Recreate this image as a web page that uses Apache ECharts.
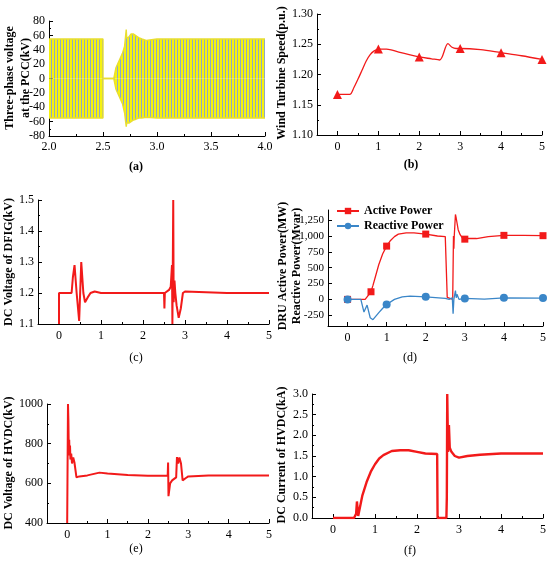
<!DOCTYPE html>
<html>
	<head>
		<meta charset="UTF-8">
		<title>Simulation results</title>
		<script src="https://cdn.jsdelivr.net/npm/echarts@6/dist/echarts.min.js"></script>
		<style>
			html, body { margin: 0; padding: 0; background: #fff; }
		</style>
	</head>
	<body>
		<div id="main" style="width: 550px;height:561px;"></div>
		<script type="text/javascript">

		// (a) envelope of the three-phase voltage at the PCC (kV)
		var aTime  = [2.0, 2.5, 2.5, 2.6, 2.62, 2.65, 2.68, 2.7, 2.715, 2.72, 2.74, 2.76, 2.78, 2.8, 2.83, 2.86, 2.9, 3.0, 4.0];
		var aUpper = [55, 55, 0, 0, 15, 25, 35, 45, 68, 56, 58, 62, 62, 60, 57, 55, 53, 55, 55];
		var aLower = [-55, -55, 0, 0, -15, -25, -35, -48, -67, -62, -62, -60, -58, -57, -55, -55, -54, -55, -55];

		// (b) wind turbine speed (p.u.)
		var bTime  = [0, 0.3, 0.4, 0.5, 0.6, 0.7, 0.8, 0.9, 1.0, 1.2, 1.5, 2.0, 2.3, 2.5, 2.7, 2.8, 2.9, 3.0, 3.5, 4.0, 4.5, 5.0];
		var bSpeed = [1.167, 1.167, 1.178, 1.192, 1.207, 1.222, 1.233, 1.239, 1.242, 1.242, 1.237, 1.229, 1.226, 1.224, 1.251, 1.245, 1.243, 1.243, 1.241, 1.236, 1.231, 1.225];
		var bMarks = [0, 1, 2, 3, 4, 5];

		// (c) DC voltage of DFIG (kV)
		var cTime = [0, 0, 0.3, 0.33, 0.37, 0.42, 0.48, 0.53, 0.58, 0.62, 0.68, 0.75, 0.85, 1.0, 1.5, 2.0, 2.5, 2.51, 2.52, 2.55, 2.62, 2.66, 2.69, 2.7, 2.72, 2.73, 2.75, 2.77, 2.8, 2.85, 2.9, 2.95, 3.0, 4.0, 5.0];
		var cVolt = [1.1, 1.2, 1.2, 1.25, 1.29, 1.2, 1.11, 1.30, 1.2, 1.17, 1.185, 1.2, 1.205, 1.2, 1.2, 1.2, 1.2, 1.15, 1.2, 1.2, 1.21, 1.22, 1.29, 1.1, 1.5, 1.17, 1.24, 1.2, 1.16, 1.12, 1.15, 1.2, 1.205, 1.2, 1.2];

		// (d) DRU active / reactive power
		var dActTime = [0, 0.35, 0.45, 0.5, 0.55, 0.6, 0.65, 0.7, 0.8, 0.9, 1.0, 1.1, 1.2, 1.3, 1.5, 1.7, 2.0, 2.3, 2.5, 2.53, 2.55, 2.6, 2.69, 2.71, 2.72, 2.73, 2.76, 2.78, 2.83, 2.88, 2.95, 3.0, 3.3, 3.6, 4.0, 4.5, 5.0];
		var dActive  = [0, 0, 0, 10, 80, 120, 220, 330, 550, 720, 840, 930, 990, 1030, 1050, 1050, 1030, 1000, 990, 980, 30, 0, 0, 1000, 800, 1000, 1340, 1280, 1100, 1020, 960, 950, 960, 990, 1010, 1010, 1005];
		var dActMarks = [0, 0.6, 1, 2, 3, 4, 5];
		var dReaTime = [0, 0.34, 0.42, 0.45, 0.5, 0.58, 0.65, 0.7, 0.8, 0.9, 1.0, 1.2, 1.4, 1.6, 2.0, 2.5, 2.6, 2.65, 2.68, 2.7, 2.72, 2.76, 2.78, 2.8, 2.85, 3.0, 3.5, 4.0, 5.0];
		var dReactive = [0, 0, -200, -170, -90, -290, -320, -300, -210, -140, -80, 0, 40, 52, 40, 15, 0, -25, 25, -225, 0, 140, 25, 80, 0, 15, 5, 25, 20];
		var dReaMarks = [0, 1, 2, 3, 4, 5];

		// (e) DC voltage of HVDC (kV)
		var eTime = [0, 0.02, 0.03, 0.04, 0.05, 0.06, 0.07, 0.08, 0.1, 0.12, 0.15, 0.18, 0.2, 0.21, 0.23, 0.3, 0.5, 0.8, 1.0, 1.5, 2.0, 2.49, 2.5, 2.51, 2.55, 2.6, 2.7, 2.72, 2.75, 2.78, 2.82, 2.86, 2.9, 2.95, 3.0, 3.5, 5.0];
		var eVolt = [400, 1000, 920, 760, 820, 740, 790, 720, 750, 700, 730, 705, 715, 700, 630, 635, 640, 654, 650, 642, 638, 638, 705, 535, 600, 615, 630, 732, 700, 730, 700, 615, 615, 628, 635, 640, 640];

		// (f) DC current of HVDC (kA)
		var fTime = [0, 0.5, 0.55, 0.57, 0.6, 0.62, 0.7, 0.8, 0.9, 1.0, 1.1, 1.2, 1.4, 1.6, 1.8, 2.0, 2.2, 2.48, 2.49, 2.7, 2.71, 2.72, 2.74, 2.76, 2.78, 2.82, 2.9, 3.0, 3.2, 3.5, 4.0, 4.5, 5.0];
		var fCurr = [0, 0, 0.1, 0.4, 0.05, 0.15, 0.55, 0.87, 1.12, 1.3, 1.44, 1.52, 1.62, 1.64, 1.64, 1.6, 1.56, 1.55, 0, 0, 0.5, 3.0, 1.6, 2.25, 1.7, 1.6, 1.5, 1.46, 1.5, 1.53, 1.56, 1.56, 1.56];

		var intTicks = [0, 1, 2, 3, 4, 5];
		var halfTicks = [0.5, 1.5, 2.5, 3.5, 4.5];
		var dTicks = [-250, 0, 250, 500, 750, 1000, 1250];

		var RED = '#f21a1a';
		var BLUE = '#3a86c8';
		var SERIF = '"Liberation Serif", "Times New Roman", serif';

		function pairs(xs, ys) {
			var out = [];
			for (var i = 0; i < xs.length; i++) out.push([xs[i], ys[i]]);
			return out;
		}
		// line data where only the listed x positions carry a marker
		function marked(xs, ys, marks) {
			var out = [];
			var used = {};
			for (var i = 0; i < xs.length; i++) {
				var m = marks.indexOf(xs[i]) >= 0 && !used[xs[i]];
				if (m) used[xs[i]] = true;
				out.push(m ? { value: [xs[i], ys[i]] } : { value: [xs[i], ys[i]], symbol: 'none' });
			}
			return out;
		}

		var labelStyle = { fontFamily: SERIF, fontSize: 12, color: '#000' };
		var lineBlack = { show: true, onZero: false, lineStyle: { color: '#000', width: 1 } };

		var grids = [
			{ left: 49, top: 21, width: 216, height: 115 },
			{ left: 317, top: 14, width: 225, height: 121 },
			{ left: 38, top: 200, width: 231, height: 124 },
			{ left: 328, top: 210, width: 215, height: 116 },
			{ left: 47, top: 404, width: 222, height: 119 },
			{ left: 312, top: 394, width: 231, height: 124 }
		];

		var xAxes = [];
		var mainX = [];
		// (a)
		xAxes.push({
			gridIndex: 0, type: 'value', min: 2, max: 4, interval: 0.5, position: 'bottom',
			axisLine: lineBlack, splitLine: { show: false },
			axisTick: { inside: true, length: 4, lineStyle: { color: '#000' } },
			minorTick: { show: true, splitNumber: 2, length: 2, lineStyle: { color: '#000' } },
			axisLabel: Object.assign({ margin: 5, formatter: function (v) { return v.toFixed(1); } }, labelStyle)
		});
		mainX.push(0);
		// (b)-(f): labels at integers, short ticks at halves
		for (var g = 1; g < 6; g++) {
			mainX.push(xAxes.length);
			xAxes.push({
				gridIndex: g, type: 'value', min: -0.5, max: 5, position: 'bottom',
				axisLine: lineBlack, splitLine: { show: false },
				axisTick: { inside: true, length: 4, customValues: intTicks, lineStyle: { color: '#000' } },
				axisLabel: Object.assign({ margin: 6, customValues: intTicks }, labelStyle)
			});
			xAxes.push({
				gridIndex: g, type: 'value', min: -0.5, max: 5, position: 'bottom',
				axisLine: { show: false, onZero: false }, splitLine: { show: false },
				axisTick: { inside: true, length: 2, customValues: halfTicks, lineStyle: { color: '#000' } },
				axisLabel: { show: false }
			});
		}

		function yAx(g, min, max, interval, digits, extra) {
			var ax = {
				gridIndex: g, type: 'value', min: min, max: max, interval: interval,
				axisLine: lineBlack, splitLine: { show: false },
				axisTick: { inside: true, length: 4, lineStyle: { color: '#000' } },
				minorTick: { show: true, splitNumber: 2, length: 2, lineStyle: { color: '#000' } },
				axisLabel: Object.assign({ margin: 4, formatter: function (v) { return v.toFixed(digits); } }, labelStyle)
			};
			return Object.assign(ax, extra || {});
		}

		var yAxes = [
			yAx(0, -80, 80, 20, 0),
			yAx(1, 1.10, 1.30, 0.05, 2),
			yAx(2, 1.1, 1.5, 0.1, 1),
			{
				gridIndex: 3, type: 'value', min: -420, max: 1410,
				axisLine: lineBlack, splitLine: { show: false },
				axisTick: { inside: true, length: 4, customValues: dTicks, lineStyle: { color: '#000' } },
				axisLabel: Object.assign({ margin: 4, customValues: dTicks }, labelStyle, { fontSize: 11 })
			},
			yAx(4, 400, 1000, 200, 0),
			yAx(5, 0, 3, 0.5, 1)
		];

		// striped fill for the dense 50 Hz waveform
		var stripe = document.createElement('canvas');
		stripe.width = 3; stripe.height = 8;
		var sc = stripe.getContext('2d');
		sc.fillStyle = '#f6f20e'; sc.fillRect(0, 0, 3, 8);
		sc.fillStyle = '#8fa9c4'; sc.fillRect(0, 0, 1, 8);

		var series = [
			{
				name: 'Ua+', type: 'line', xAxisIndex: mainX[0], yAxisIndex: 0, data: pairs(aTime, aUpper),
				symbol: 'none', lineStyle: { color: '#e9de30', width: 1.4 },
				areaStyle: { color: { image: stripe, repeat: 'repeat' }, opacity: 1 }
			},
			{
				name: 'Ua-', type: 'line', xAxisIndex: mainX[0], yAxisIndex: 0, data: pairs(aTime, aLower),
				symbol: 'none', lineStyle: { color: '#e9de30', width: 1.4 },
				areaStyle: { color: { image: stripe, repeat: 'repeat' }, opacity: 1 }
			},
			{
				name: 'Speed', type: 'line', xAxisIndex: mainX[1], yAxisIndex: 1, data: marked(bTime, bSpeed, bMarks),
				smooth: 0.3, symbol: 'triangle', symbolSize: 9, showSymbol: true,
				lineStyle: { color: RED, width: 1.3 }, itemStyle: { color: RED }
			},
			{
				name: 'Udc DFIG', type: 'line', xAxisIndex: mainX[2], yAxisIndex: 2, data: pairs(cTime, cVolt),
				symbol: 'none', lineStyle: { color: RED, width: 2 }
			},
			{
				name: 'Active Power', type: 'line', xAxisIndex: mainX[3], yAxisIndex: 3, data: marked(dActTime, dActive, dActMarks),
				symbol: 'rect', symbolSize: 7, showSymbol: true,
				lineStyle: { color: RED, width: 1.3 }, itemStyle: { color: RED }
			},
			{
				name: 'Reactive Power', type: 'line', xAxisIndex: mainX[3], yAxisIndex: 3, data: marked(dReaTime, dReactive, dReaMarks),
				symbol: 'circle', symbolSize: 8, showSymbol: true,
				lineStyle: { color: BLUE, width: 1.3 }, itemStyle: { color: BLUE }
			},
			{
				name: 'Udc HVDC', type: 'line', xAxisIndex: mainX[4], yAxisIndex: 4, data: pairs(eTime, eVolt),
				symbol: 'none', lineStyle: { color: RED, width: 2 }
			},
			{
				name: 'Idc HVDC', type: 'line', xAxisIndex: mainX[5], yAxisIndex: 5, data: pairs(fTime, fCurr),
				symbol: 'none', lineStyle: { color: RED, width: 2.4 }
			}
		];

		function txt(x, y, text, bold, rotate, lh) {
			return {
				type: 'text', x: x, y: y, rotation: rotate ? Math.PI / 2 : 0, silent: true,
				style: {
					text: text, fill: '#000', lineHeight: lh || 14,
					font: (bold ? 'bold ' : '') + '12px ' + SERIF,
					textAlign: 'center', textVerticalAlign: 'middle', align: 'center', verticalAlign: 'middle'
				}
			};
		}

		var myChart = echarts.init(document.getElementById('main'));
		var option = {
			animation: false,
			backgroundColor: '#fff',
			grid: grids,
			xAxis: xAxes,
			yAxis: yAxes,
			legend: {
				data: ['Active Power', 'Reactive Power'],
				orient: 'vertical', left: 336, top: 205, itemGap: 3,
				itemWidth: 22, itemHeight: 8, padding: 0,
				textStyle: { fontFamily: SERIF, fontSize: 12, fontWeight: 'bold', color: '#000' }
			},
			graphic: [
				txt(18, 78, 'Three-phase voltage\nat the PCC(kV)', true, true, 16),
				txt(282, 73, 'Wind Turbine Speed(p.u.)', true, true),
				txt(9, 262, 'DC Voltage of DFIG(kV)', true, true),
				txt(290, 266, 'DRU Active Power(MW)\nReactive Power(Mvar)', true, true, 14),
				txt(9, 463, 'DC Voltage of HVDC(kV)', true, true),
				txt(282, 455, 'DC Current of HVDC(kA)', true, true),
				txt(136, 167, '(a)', true),
				txt(411, 165, '(b)', true),
				txt(136, 358, '(c)', false),
				txt(410, 358, '(d)', false),
				txt(136, 549, '(e)', false),
				txt(410, 551, '(f)', false)
			],
			series: series
		};
		myChart.setOption(option);

		</script>
	</body>
</html>
